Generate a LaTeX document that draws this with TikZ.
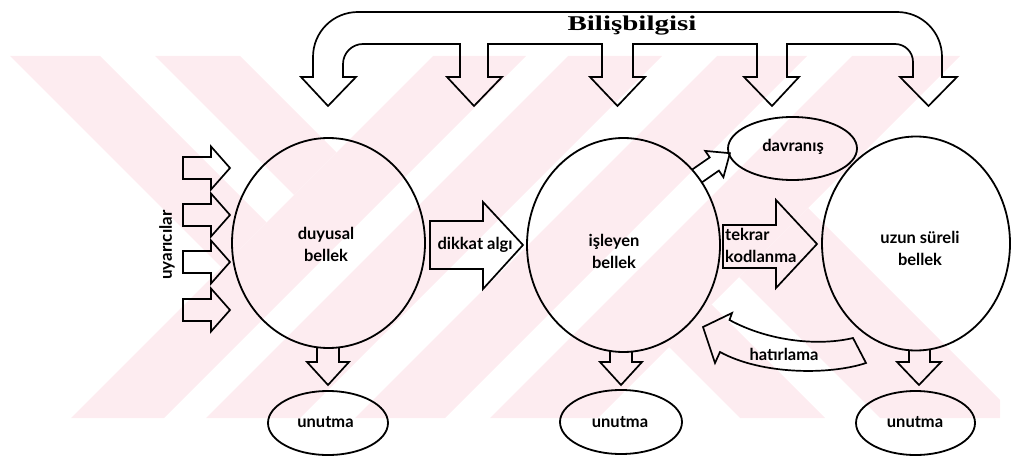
\documentclass[tikz,border=0pt]{standalone}
\usepackage{fontspec}
\setmainfont{Lato}
\newfontfamily\titlefont{Liberation Serif}[FakeStretch=1.38]
\usetikzlibrary{shapes.geometric,calc}
\definecolor{wm}{RGB}{253,236,240}
\begin{document}
\begin{tikzpicture}[x=1pt,y=-1pt,
  mem/.style={draw, ellipse, line width=1.8pt, inner sep=0pt},
  blk/.style={draw, line width=1.7pt, line join=miter},
  lbl/.style={font=\fontsize{16.5}{22}\selectfont\bfseries, align=center, inner sep=0pt},
  wmfill/.style={fill=wm, draw=none}]
\useasboundingbox (0,0) rectangle (1011,457);
% watermark
\begin{scope}
\clip (10,56) rectangle (1000,418);
\fill[wmfill] (433,56) -- (526,56) -- (164,418) -- (71,418) -- cycle;
\fill[wmfill] (568,56) -- (662,56) -- (300,418) -- (206,418) -- cycle;
\fill[wmfill] (717,56) -- (807,56) -- (445,418) -- (355,418) -- cycle;
\fill[wmfill] (852,56) -- (960,56) -- (598,418) -- (490,418) -- cycle;
\fill[wmfill] (10,56) -- (100,56) -- (266.5,222.5) -- (221.5,267.5) -- cycle;
\fill[wmfill] (155,56) -- (240,56) -- (336.5,152.5) -- (294,195) -- cycle;
\fill[wmfill] (669,347) -- (711.5,304.5) -- (825,418) -- (740,418) -- cycle;
\fill[wmfill] (739,277) -- (808,208) -- (1018,418) -- (880,418) -- cycle;
\end{scope}
% memory stores
\node[mem, minimum width=193, minimum height=210] (duy) at (328.5,243) {};
\node[mem, minimum width=193, minimum height=214] (isl) at (623.5,245) {};
\node[mem, minimum width=188, minimum height=214] (uzun) at (916,243.5) {};
\node[mem, minimum width=129, minimum height=63] (dav) at (792.5,148.5) {};
\node[mem, minimum width=120, minimum height=64] (un1) at (328,423) {};
\node[mem, minimum width=122, minimum height=64] (un2) at (621,422) {};
\node[mem, minimum width=119, minimum height=64] (un3) at (915.5,423) {};
% labels
\node[lbl] (tduy) at (326,244) {duyusal\\bellek};
\node[lbl] (tisl) at (614,251) {işleyen\\bellek};
\node[lbl] (tuzun) at (920,248.5) {uzun süreli\\bellek};
\node[lbl] (tdav) at (793,147) {davranış};
\node[lbl] (tun1) at (325.5,422) {unutma};
\node[lbl] (tun2) at (620,422) {unutma};
\node[lbl] (tun3) at (915,422) {unutma};
\node[lbl] (tdik) at (475,245) {dikkat algı};
\node[lbl, align=left, anchor=west] (ttek) at (725,245.5) {tekrar\\kodlanma};
\node[lbl] (that) at (784,354) {hatırlama};
\node[lbl, font=\fontsize{17}{22}\selectfont\bfseries, rotate=90] (tuya) at (167,245) {uyarıcılar};
\node[inner sep=0pt, font=\titlefont\fontsize{21}{24}\selectfont\bfseries] (tbil) at (632,26) {Bilişbilgisi};
% Bilisbilgisi arrow
\draw[blk] (328,106) -- (356,77) -- (343,77) -- (343,64) .. controls (343,53) and (352,44) .. (363,44)
  -- (460,44) -- (460,77) -- (447,77) -- (474,106) -- (502,77) -- (488,77) -- (488,44)
  -- (602,44) -- (602,77) -- (590,77) -- (617.5,106) -- (645,77) -- (633,77) -- (633,44)
  -- (757,44) -- (757,77) -- (744,77) -- (772,106) -- (799,77) -- (787,77) -- (787,44)
  -- (895,44) .. controls (905,44) and (913,52) .. (913,62) -- (913,77) -- (900,77) -- (928.5,106)
  -- (957,77) -- (942,77) -- (942,57) .. controls (942,32) and (922,12) .. (897,12)
  -- (358,12) .. controls (333,12) and (313,32) .. (313,57) -- (313,77) -- (301,77) -- cycle;
% stimuli arrows
\foreach \cy in {168,215,262,310}
  \draw[blk] (183,\cy-11) -- (211,\cy-11) -- (211,\cy-21.5) -- (230,\cy) -- (211,\cy+21.5) -- (211,\cy+11) -- (183,\cy+11) -- cycle;
% dikkat algi
\draw[blk] (430,221) -- (483,221) -- (483,202) -- (523,245) -- (483,289) -- (483,269) -- (430,269) -- cycle;
% tekrar kodlanma
\draw[blk] (723,225) -- (776,225) -- (776,200) -- (817,244) -- (776,288) -- (776,268) -- (723,268) -- cycle;
% davranis
\draw[blk] (692.4,169.4) -- (709.7,157.4) -- (705.2,150.9) -- (729.9,153.2) -- (723.4,177.2) -- (718.9,170.6) -- (701.6,182.6);
% hatirlama
\draw[blk] (853,338) .. controls (820,346) and (770,342) .. (729.5,320) -- (732,313) -- (703,327) -- (715,363)
  -- (720,352) .. controls (762,375) and (830,375) .. (866,363) -- cycle;
% forgetting arrows
\draw[blk] (317,347) -- (317,362) -- (307,362) -- (328,385) -- (349,362) -- (339,362) -- (339,347);
\draw[blk] (610,351) -- (610,362) -- (600,362) -- (621,385) -- (642,362) -- (632,362) -- (632,351);
\draw[blk] (909,350) -- (909,362) -- (897,362) -- (919,385) -- (941,362) -- (930,362) -- (930,349);
\end{tikzpicture}
\end{document}
